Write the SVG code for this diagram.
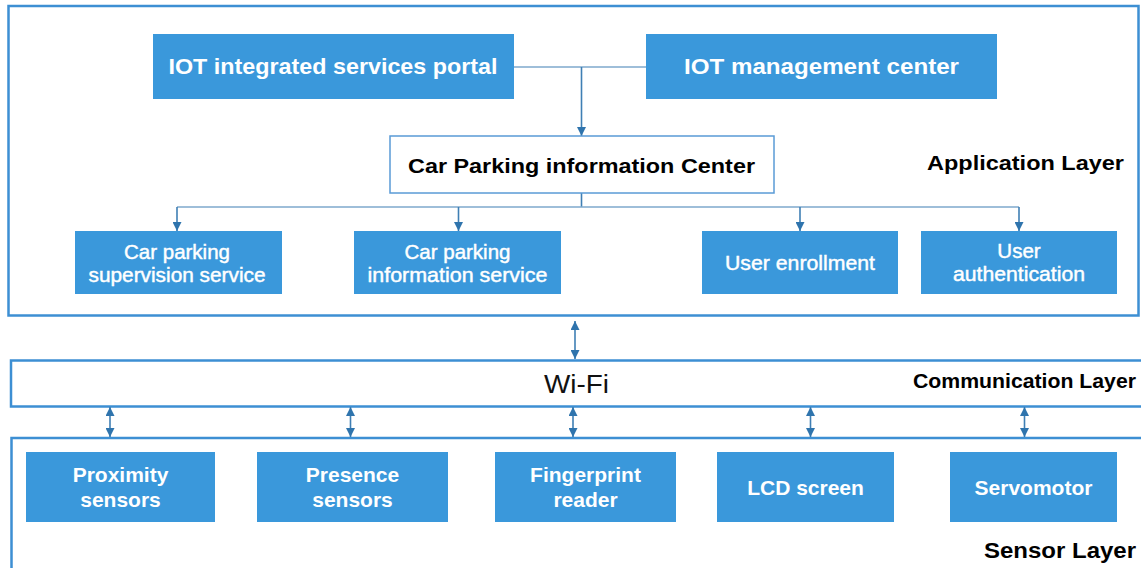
<svg xmlns="http://www.w3.org/2000/svg" width="1141" height="568" viewBox="0 0 1141 568">
<defs>
<marker id="ah" viewBox="0 0 10 10" refX="10" refY="5" markerWidth="9" markerHeight="9" markerUnits="userSpaceOnUse" orient="auto-start-reverse">
<path d="M0,0 L10,5 L0,10 z" fill="#2f74ad"/>
</marker>
<style>
.layer{fill:#fff;stroke:#3d8fd3;stroke-width:2.5}
.node{fill:#3a98db}
.wbox{fill:#fff;stroke:#5a9bd6;stroke-width:1.5}
.conn{fill:none;stroke:#3f7fb4;stroke-width:1.6}
.lt{fill:none;stroke:#7ea8cc;stroke-width:1.6}
.tb{font-family:"Liberation Sans",Arial,sans-serif;font-weight:bold;fill:#fff;text-anchor:middle}
.tr{font-family:"Liberation Sans",Arial,sans-serif;font-weight:normal;fill:#fff;stroke:#fff;stroke-width:0.45;text-anchor:middle;font-size:20.5px}
.lab{font-family:"Liberation Sans",Arial,sans-serif;font-weight:bold;fill:#000;text-anchor:end}
</style>
</defs>
<rect width="1141" height="568" fill="#fff"/>
<g id="application-layer">
<rect class="layer" x="8.5" y="6" width="1130" height="309.5"/>
<text class="lab" x="1124" y="170" font-size="21" textLength="197" lengthAdjust="spacingAndGlyphs">Application Layer</text>
</g>
<g id="communication-layer">
<rect class="layer" x="11" y="360.5" width="1135" height="46"/>
<text x="576.5" y="393" font-family="'Liberation Sans',Arial,sans-serif" font-size="26" text-anchor="middle" fill="#111" textLength="65" lengthAdjust="spacingAndGlyphs">Wi-Fi</text>
<text class="lab" x="1136" y="388" font-size="20" textLength="223" lengthAdjust="spacingAndGlyphs">Communication Layer</text>
</g>
<g id="sensor-layer">
<rect class="layer" x="11.5" y="438" width="1135" height="140"/>
<text class="lab" x="1136" y="558" font-size="22" textLength="152" lengthAdjust="spacingAndGlyphs">Sensor Layer</text>
</g>
<g id="connectors">
<line class="lt" x1="514" y1="67" x2="646" y2="67"/>
<line class="conn" x1="581.5" y1="67" x2="581.5" y2="136" marker-end="url(#ah)"/>
<line class="conn" x1="581.5" y1="193" x2="581.5" y2="207"/>
<line class="lt" x1="177" y1="207" x2="1019" y2="207"/>
<line class="conn" x1="177" y1="207" x2="177" y2="231" marker-end="url(#ah)"/>
<line class="conn" x1="458.5" y1="207" x2="458.5" y2="231" marker-end="url(#ah)"/>
<line class="conn" x1="800" y1="207" x2="800" y2="231" marker-end="url(#ah)"/>
<line class="conn" x1="1019" y1="207" x2="1019" y2="231" marker-end="url(#ah)"/>
<line class="conn" x1="575" y1="321" x2="575" y2="359" marker-start="url(#ah)" marker-end="url(#ah)"/>
<line class="conn" x1="110" y1="407" x2="110" y2="437" marker-start="url(#ah)" marker-end="url(#ah)"/>
<line class="conn" x1="350.5" y1="407" x2="350.5" y2="437" marker-start="url(#ah)" marker-end="url(#ah)"/>
<line class="conn" x1="573" y1="407" x2="573" y2="437" marker-start="url(#ah)" marker-end="url(#ah)"/>
<line class="conn" x1="810.5" y1="407" x2="810.5" y2="437" marker-start="url(#ah)" marker-end="url(#ah)"/>
<line class="conn" x1="1024.5" y1="407" x2="1024.5" y2="437" marker-start="url(#ah)" marker-end="url(#ah)"/>
</g>
<g id="iot-portal">
<rect class="node" x="153" y="34" width="361" height="65"/>
<text class="tb" x="333" y="74" font-size="22" textLength="329" lengthAdjust="spacingAndGlyphs">IOT integrated services portal</text>
</g>
<g id="iot-management">
<rect class="node" x="646" y="34" width="351" height="65"/>
<text class="tb" x="821.5" y="74" font-size="22" textLength="275" lengthAdjust="spacingAndGlyphs">IOT management center</text>
</g>
<g id="parking-center">
<rect class="wbox" x="390" y="136" width="384" height="57"/>
<text x="581.5" y="172.5" font-family="'Liberation Sans',Arial,sans-serif" font-weight="bold" font-size="21" text-anchor="middle" fill="#000" textLength="347" lengthAdjust="spacingAndGlyphs">Car Parking information Center</text>
</g>
<g id="supervision-service">
<rect class="node" x="75" y="231" width="207" height="63"/>
<text class="tr" x="177" y="259">Car parking</text>
<text class="tr" x="177" y="282" textLength="177" lengthAdjust="spacingAndGlyphs">supervision service</text>
</g>
<g id="information-service">
<rect class="node" x="354" y="231" width="207" height="63"/>
<text class="tr" x="457.5" y="259">Car parking</text>
<text class="tr" x="457.5" y="282" textLength="180" lengthAdjust="spacingAndGlyphs">information service</text>
</g>
<g id="user-enrollment">
<rect class="node" x="702" y="231" width="196" height="63"/>
<text class="tr" x="800" y="270" textLength="150" lengthAdjust="spacingAndGlyphs">User enrollment</text>
</g>
<g id="user-authentication">
<rect class="node" x="921" y="231" width="196" height="63"/>
<text class="tr" x="1019" y="258">User</text>
<text class="tr" x="1019" y="281" textLength="132" lengthAdjust="spacingAndGlyphs">authentication</text>
</g>
<g id="proximity-sensors">
<rect class="node" x="26" y="452" width="189" height="70"/>
<text class="tb" x="120.5" y="482" font-size="21">Proximity</text>
<text class="tb" x="120.5" y="507" font-size="21">sensors</text>
</g>
<g id="presence-sensors">
<rect class="node" x="257" y="452" width="191" height="70"/>
<text class="tb" x="352.5" y="482" font-size="21">Presence</text>
<text class="tb" x="352.5" y="507" font-size="21">sensors</text>
</g>
<g id="fingerprint-reader">
<rect class="node" x="495" y="452" width="181" height="70"/>
<text class="tb" x="585.5" y="482" font-size="21">Fingerprint</text>
<text class="tb" x="585.5" y="507" font-size="21">reader</text>
</g>
<g id="lcd-screen">
<rect class="node" x="717" y="452" width="177" height="70"/>
<text class="tb" x="805.5" y="495" font-size="21">LCD screen</text>
</g>
<g id="servomotor">
<rect class="node" x="950" y="452" width="167" height="70"/>
<text class="tb" x="1033.5" y="495" font-size="21">Servomotor</text>
</g>
</svg>
